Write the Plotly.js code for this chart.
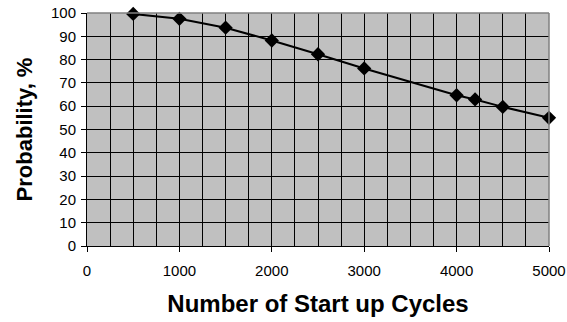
<!DOCTYPE html>
<html><head><meta charset="utf-8">
<script src="https://cdn.plot.ly/plotly-3.0.1.min.js"></script>
<style>html,body{margin:0;padding:0;background:#fff}#c{width:567px;height:322px}</style>
</head><body><div id="c"></div>
<script>
const cycles = [500, 1000, 1500, 2000, 2500, 3000, 4000, 4200, 4500, 5000];
const probability = [99.6, 97.5, 93.7, 88.2, 82.3, 76.2, 64.7, 62.9, 59.7, 55.0];
const xTitle = "Number of Start up Cycles";
const yTitle = "Probability, %";

const trace = {
  x: cycles, y: probability, type: 'scatter', mode: 'lines+markers',
  line: {color: '#000', width: 2},
  marker: {symbol: 'diamond', size: 11, color: '#000'},
  cliponaxis: false, hoverinfo: 'skip'
};
const font = {family: 'Liberation Sans, Arial, sans-serif', color: '#000'};
const layout = {
  width: 567, height: 322,
  margin: {l: 87, r: 18, t: 12.5, b: 75.5},
  paper_bgcolor: '#fff', plot_bgcolor: '#c0c0c0',
  showlegend: false,
  font: font,
  xaxis: {
    range: [0, 5000], dtick: 1000, tick0: 0,
    showgrid: true, gridcolor: '#000', gridwidth: 1,
    minor: {dtick: 250, showgrid: true, gridcolor: '#000', gridwidth: 1, ticks: ''},
    ticks: 'outside', ticklen: 5, tickcolor: '#000',
    showline: true, linecolor: '#000', linewidth: 1,
    zeroline: false, mirror: false,
    ticklabelstandoff: 6,
    tickfont: {size: 15, family: font.family, color: '#000'},
    title: {text: xTitle, font: {size: 24, family: font.family, color: '#000', weight: 'bold'}, standoff: 17}
  },
  yaxis: {
    range: [0, 100], dtick: 10, tick0: 0,
    showgrid: true, gridcolor: '#000', gridwidth: 1,
    ticks: 'outside', ticklen: 5, tickcolor: '#000',
    showline: true, linecolor: '#000', linewidth: 1,
    zeroline: false,
    ticklabelstandoff: 2,
    tickfont: {size: 15, family: font.family, color: '#000'},
    title: {text: yTitle, font: {size: 22, family: font.family, color: '#000', weight: 'bold'}, standoff: 12}
  },
  shapes: [
    {type: 'line', xref: 'paper', yref: 'paper', x0: 0, x1: 1, y0: 1, y1: 1, line: {color: '#808080', width: 1.5}},
    {type: 'line', xref: 'paper', yref: 'paper', x0: 1, x1: 1, y0: 0, y1: 1, line: {color: '#808080', width: 1.5}}
  ]
};
Plotly.newPlot('c', [trace], layout, {staticPlot: true, displayModeBar: false});
</script></body></html>
